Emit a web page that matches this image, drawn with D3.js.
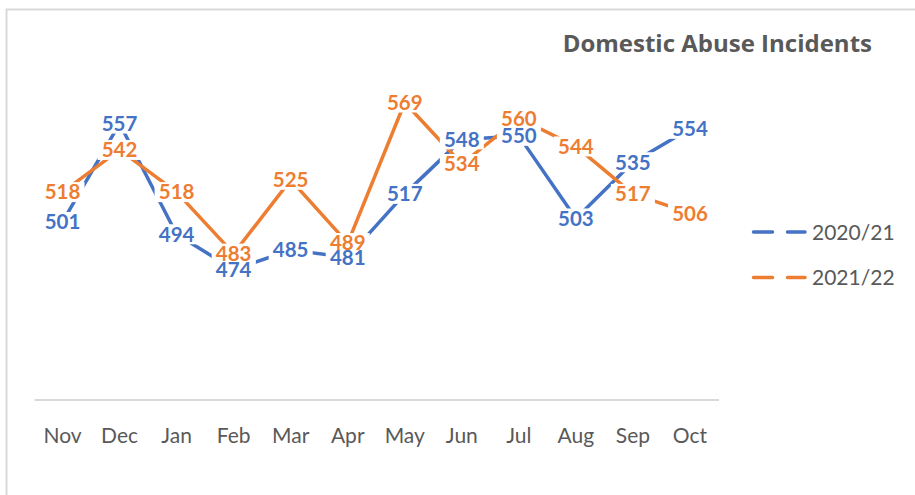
<!doctype html>
<html>
<head>
<meta charset="utf-8">
<script src="https://cdn.jsdelivr.net/npm/d3@7"></script>
<style>
    body { margin: 0; background: #fff; }
    svg { display: block; font-family: Lato, 'Open Sans', sans-serif; }
</style>
</head>
<body>
<div id="chart"></div>
<script>
    // data
    const months = ['Nov', 'Dec', 'Jan', 'Feb', 'Mar', 'Apr', 'May', 'Jun', 'Jul', 'Aug', 'Sep', 'Oct'];
    const series2021 = [501, 557, 494, 474, 485, 481, 517, 548, 550, 503, 535, 554];
    const series2122 = [518, 542, 518, 483, 525, 489, 569, 534, 560, 544, 517, 506];
    const seriesNames = ['2020/21', '2021/22'];
    const colors = ['#4472C4', '#ED7D31'];
    const title = 'Domestic Abuse Incidents';

    const W = 915, H = 495;
    const plot = { left: 34, right: 718.5, top: 48, bottom: 399.5 };

    const svg = d3.select('#chart')
        .append('svg')
        .attr('width', W)
        .attr('height', H);

    // outer chart frame (only left and top edges fall inside the picture)
    svg.append('path')
        .attr('d', `M6.5,${H + 2} L6.5,9.5 L${W + 2},9.5`)
        .attr('fill', 'none')
        .attr('stroke', '#d9d9d9')
        .attr('stroke-width', 2);

    const x = d3.scaleBand()
        .domain(months)
        .range([plot.left, plot.right])
        .padding(0);

    const y = d3.scaleLinear()
        .domain([400, 600])
        .range([plot.bottom, plot.top]);

    const cx = d => x(d) + x.bandwidth() / 2;

    // x axis
    const axis = svg.append('g')
        .attr('transform', `translate(0,${plot.bottom})`)
        .call(d3.axisBottom(x).tickSize(0).tickSizeOuter(0));

    axis.select('.domain')
        .attr('stroke', '#d9d9d9')
        .attr('stroke-width', 2);

    axis.selectAll('text')
        .attr('y', 43.5)
        .attr('dy', 0)
        .attr('fill', '#595959')
        .style('font-size', '21px')
        .style('font-family', 'Lato, sans-serif');

    const data = [series2021, series2122].map((vals, i) => ({
        name: seriesNames[i],
        color: colors[i],
        points: months.map((m, j) => ({ month: m, value: vals[j], color: colors[i] }))
    }));

    const line = d3.line()
        .x(d => cx(d.month))
        .y(d => y(d.value));

    svg.selectAll('.series')
        .data(data)
        .enter()
        .append('path')
        .attr('class', 'series')
        .attr('d', d => line(d.points))
        .attr('fill', 'none')
        .attr('stroke', d => d.color)
        .attr('stroke-width', 3.5)
        .attr('stroke-linejoin', 'round');

    // data labels centred on the points: all white boxes first (they cut the lines),
    // then all the numbers on top so no label hides another
    const allPoints = data.flatMap(s => s.points);

    svg.append('g')
        .selectAll('rect')
        .data(allPoints)
        .enter()
        .append('rect')
        .attr('x', d => cx(d.month) - 22)
        .attr('y', d => y(d.value) - 10)
        .attr('width', 44)
        .attr('height', 20)
        .attr('fill', '#fff');

    svg.append('g')
        .selectAll('text')
        .data(allPoints)
        .enter()
        .append('text')
        .attr('x', d => cx(d.month))
        .attr('y', d => y(d.value))
        .attr('text-anchor', 'middle')
        .attr('dy', '0.36em')
        .attr('fill', d => d.color)
        .style('font-size', '20.5px')
        .style('font-weight', 'bold')
        .text(d => d.value);

    // title
    svg.append('text')
        .attr('x', 872)
        .attr('y', 52)
        .attr('text-anchor', 'end')
        .attr('fill', '#595959')
        .style('font-family', "'Open Sans', sans-serif")
        .style('font-size', '24px')
        .style('font-weight', 'bold')
        .text(title);

    // legend
    const legend = svg.selectAll('.legend')
        .data(data)
        .enter()
        .append('g')
        .attr('class', 'legend')
        .attr('transform', (d, i) => `translate(752,${232 + i * 45.5})`);

    legend.append('line')
        .attr('x1', 1.5)
        .attr('x2', 53)
        .attr('stroke', d => d.color)
        .attr('stroke-width', 3.5)
        .attr('stroke-linecap', 'round')
        .attr('stroke-dasharray', '19,15');

    legend.append('text')
        .attr('x', 60)
        .attr('dy', '0.36em')
        .attr('fill', '#595959')
        .style('font-size', '21px')
        .text(d => d.name);
</script>
</body>
</html>
